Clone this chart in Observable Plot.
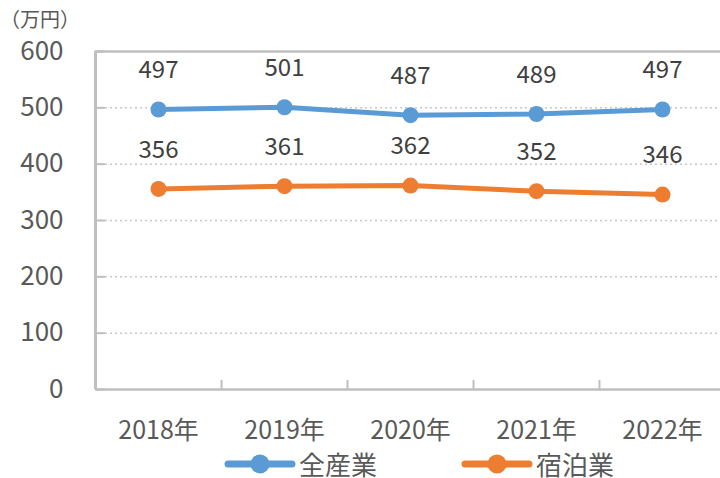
<!DOCTYPE html>
<html><head><meta charset="utf-8">
<script src="https://cdn.jsdelivr.net/npm/d3@7"></script>
<script src="https://cdn.jsdelivr.net/npm/@observablehq/plot@0.6"></script>
<style>
body{margin:0;background:#fff;font-family:"Noto Sans CJK JP",sans-serif;width:720px;height:478px;overflow:hidden;position:relative;}
#unit{position:absolute;left:0px;top:9px;font-size:20px;line-height:1;color:#595959;}
#legend{position:absolute;left:224px;top:450px;display:flex;gap:84px;height:28px;align-items:center;font-size:26px;line-height:1;color:#595959;}
.item{display:flex;align-items:center;gap:3px;}
</style></head><body>
<div id="chart" style="position:absolute;left:0;top:0;width:720px;"></div>
<div id="legend"></div>
<script>
const years = [2018, 2019, 2020, 2021, 2022];
const allIndustry = [497, 501, 487, 489, 497];
const lodging = [356, 361, 362, 352, 346];
const seriesNames = ["全産業", "宿泊業"];
const colors = ["#5B9BD5", "#ED7D31"];
const yTicks = [0, 100, 200, 300, 400, 500, 600];
const gridTicks = [100, 200, 300, 400, 500];
const boundaries = [2018.5, 2019.5, 2020.5, 2021.5];

const data = [
  ...years.map((y, i) => ({year: y, value: allIndustry[i], series: seriesNames[0]})),
  ...years.map((y, i) => ({year: y, value: lodging[i], series: seriesNames[1]}))
];

const chart = Plot.plot({
  width: 720, height: 450,
  marginTop: 51, marginBottom: 61, marginLeft: 95, marginRight: 0,
  style: {fontFamily: "'Noto Sans CJK JP', sans-serif", color: "#595959", background: "#fff"},
  x: {type: "linear", domain: [2017.5, 2022.5], range: [95, 725]},
  y: {domain: [0, 600], range: [389, 51]},
  color: {domain: seriesNames, range: colors},
  marks: [
    Plot.ruleY(gridTicks, {stroke: "#C8C8C8", strokeWidth: 1.5, strokeDasharray: "2,3"}),
    Plot.ruleY([0, 600], {stroke: "#BFBFBF", strokeWidth: 2.5}),
    Plot.ruleX([2017.5], {stroke: "#BFBFBF", strokeWidth: 3}),
    Plot.axisY({ticks: yTicks, tickSize: -10, stroke: "#BFBFBF", strokeWidth: 2, tickFormat: () => "", label: null}),
    Plot.text(yTicks, {x: 2017.5, y: d => d, text: d => String(d), dx: -32, textAnchor: "end", fontSize: 26, fill: "#595959"}),
    Plot.axisX({ticks: years, tickSize: 0, tickPadding: 32, tickFormat: d => `${d}年`, fontSize: 25, fill: "#595959", label: null}),
    Plot.axisX({ticks: boundaries, tickSize: -9, stroke: "#BFBFBF", strokeWidth: 2, tickFormat: () => "", label: null}),
    Plot.line(data, {x: "year", y: "value", stroke: "series", strokeWidth: 5, curve: "linear"}),
    Plot.dot(data, {x: "year", y: "value", fill: "series", r: 8}),
    Plot.text(data, {x: "year", y: "value", text: d => String(d.value), dy: -39, fontSize: 24, fill: "#404040"})
  ]
});
const c = document.getElementById("chart");
c.appendChild(chart);
const u = document.createElement("div");
u.id = "unit"; u.textContent = "（万円）";
document.body.appendChild(u);

const lg = document.getElementById("legend");
seriesNames.forEach((n, i) => {
  const it = document.createElement("div");
  it.className = "item";
  it.innerHTML = `<svg width="72" height="22"><line x1="4" x2="68" y1="11" y2="11" stroke="${colors[i]}" stroke-width="7" stroke-linecap="round"/><circle cx="36" cy="11" r="9.5" fill="${colors[i]}"/></svg><span>${n}</span>`;
  lg.appendChild(it);
});
</script>
</body></html>
